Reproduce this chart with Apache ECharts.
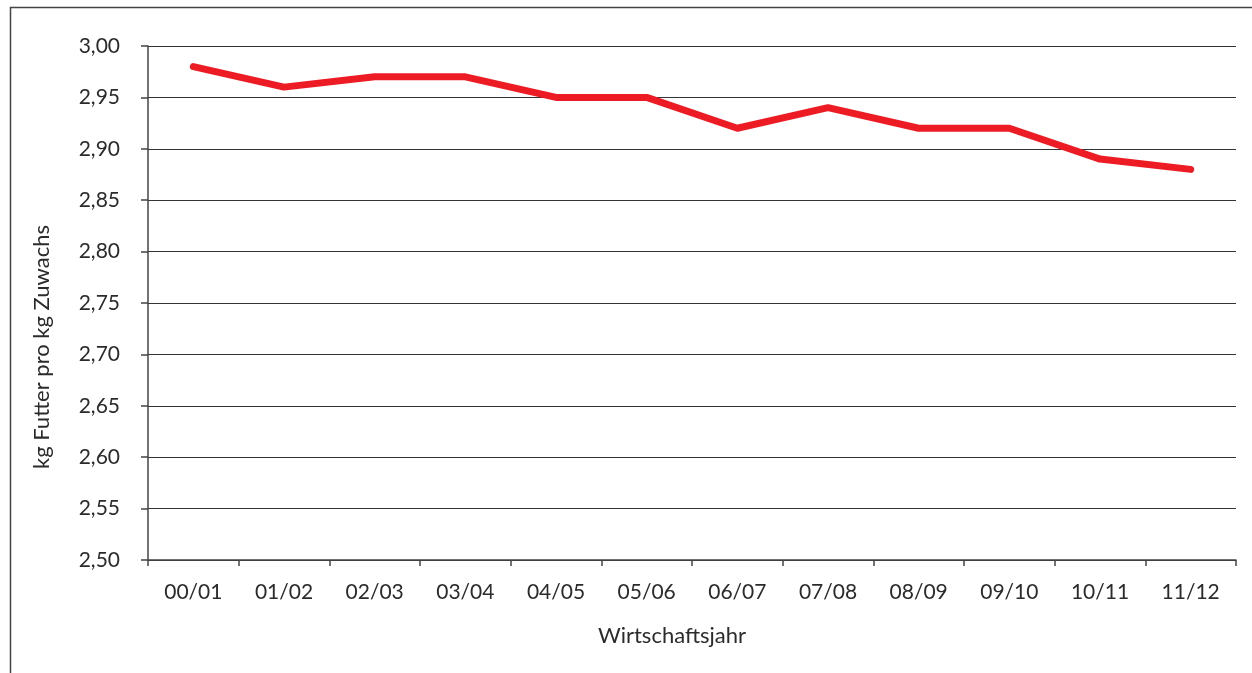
<!DOCTYPE html>
<html>
<head>
<meta charset="utf-8">
<script src="https://cdn.jsdelivr.net/npm/echarts@6/dist/echarts.min.js"></script>
<style>
  html, body { margin: 0; padding: 0; background: #fff; }
  #chart { width: 1252px; height: 673px; }
</style>
</head>
<body>
<div id="chart"></div>
<script>
// Wirtschaftsjahre (financial years)
const years = ['00/01', '01/02', '02/03', '03/04', '04/05', '05/06', '06/07', '07/08', '08/09', '09/10', '10/11', '11/12'];
// Futterverwertung: kg Futter pro kg Zuwachs
const feedRatio = [2.98, 2.96, 2.97, 2.97, 2.95, 2.95, 2.92, 2.94, 2.92, 2.92, 2.89, 2.88];
const yMin = 2.5, yMax = 3.0, yStep = 0.05;
const xTitle = 'Wirtschaftsjahr';
const yTitle = 'kg Futter pro kg Zuwachs';

const FONT = 'Lato';
const TEXT = '#2b2b2b';
const AXIS = '#444';
const chart = echarts.init(document.getElementById('chart'), null, { renderer: 'canvas' });

chart.setOption({
  animation: false,
  backgroundColor: '#ffffff',
  graphic: [
    {
      // outer frame (open to the right and bottom)
      type: 'rect',
      shape: { x: 10.5, y: 7.5, width: 1260, height: 700 },
      style: { fill: 'none', stroke: AXIS, lineWidth: 1.5 },
      silent: true
    },
    {
      type: 'text',
      x: 672, y: 636,
      style: { text: xTitle, fontFamily: FONT, fontSize: 22, fill: TEXT, align: 'center', verticalAlign: 'middle' },
      silent: true
    },
    {
      type: 'text',
      x: 42, y: 347,
      rotation: Math.PI / 2,
      style: { text: yTitle, fontFamily: FONT, fontSize: 22, fill: TEXT, align: 'center', verticalAlign: 'middle' },
      silent: true
    }
  ],
  grid: { left: 148, right: 16, top: 46, bottom: 113, containLabel: false },
  xAxis: {
    type: 'category',
    data: years,
    boundaryGap: true,
    axisLine: { show: true, lineStyle: { color: AXIS, width: 1.5 } },
    axisTick: { show: true, interval: 0, length: 6, inside: false, lineStyle: { color: AXIS, width: 1.5 } },
    axisLabel: { interval: 0, margin: 22, fontFamily: FONT, fontSize: 21, color: TEXT },
    splitLine: { show: false }
  },
  yAxis: {
    type: 'value',
    min: yMin,
    max: yMax,
    interval: yStep,
    axisLine: { show: true, lineStyle: { color: AXIS, width: 1.5 } },
    axisTick: { show: true, length: 7, lineStyle: { color: AXIS, width: 1.5 } },
    axisLabel: {
      margin: 28,
      fontFamily: FONT,
      fontSize: 21,
      color: TEXT,
      padding: [5, 0, 0, 0],
      formatter: v => v.toFixed(2).replace('.', ',')
    },
    splitLine: { show: true, lineStyle: { color: '#333', width: 1.2 } }
  },
  series: [{
    type: 'line',
    data: feedRatio,
    symbol: 'none',
    smooth: false,
    lineStyle: { color: '#ed1c24', width: 7, cap: 'round', join: 'round' }
  }]
});
</script>
</body>
</html>
